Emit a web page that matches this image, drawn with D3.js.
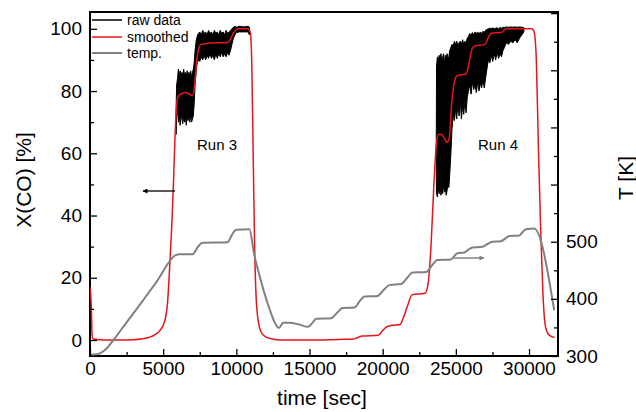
<!DOCTYPE html>
<html>
<head>
<meta charset="utf-8">
<script src="https://cdn.jsdelivr.net/npm/d3@7"></script>
<style>
  html, body { margin: 0; padding: 0; background: #fff; }
  svg { display: block; font-family: "Liberation Sans", Arial, Helvetica, sans-serif; }
</style>
</head>
<body>
<svg id="chart" width="636" height="412"></svg>
<script>
// ---- data ----
const smoothTime = [0, 80, 150, 250, 1000, 2000, 3000, 3500, 4000, 4400, 4800, 5100, 5300, 5450, 5600, 5700, 5800, 5900, 6000, 6200, 6500, 6800, 7000, 7150, 7300, 7450, 7600, 8500, 9300, 9500, 9800, 10100, 10800, 10950, 11050, 11150, 11250, 11350, 11500, 11700, 12000, 12500, 13000, 15000, 17000, 18000, 18300, 18600, 19700, 19900, 20200, 20500, 21200, 21400, 21700, 22000, 22900, 23100, 23300, 23500, 23650, 23800, 24000, 24200, 24400, 24550, 24700, 24900, 25100, 25700, 25900, 26100, 26300, 27000, 27200, 27400, 28200, 28400, 30200, 30350, 30500, 30650, 30800, 30950, 31100, 31300, 31600, 31750];
const smoothValue = [17, 12, 1, 0.3, 0, 0, 0.1, 0.3, 0.8, 1.6, 3.2, 6, 12, 24, 38, 50, 64, 74, 78, 79, 79.5, 79, 78.5, 82, 90, 94, 95, 95.5, 95.5, 96, 98.5, 100, 100, 99, 90, 60, 30, 14, 6, 2.5, 1, 0.3, 0, 0, 0.2, 0.3, 0.8, 1.3, 1.5, 2.5, 4, 4.6, 5, 7, 11, 14.5, 15, 18, 30, 50, 62, 66, 66, 65, 63.5, 65, 75, 83, 85, 85.5, 89, 93.5, 94.5, 95, 97, 98.5, 99, 100, 100, 99, 90, 60, 35, 15, 5, 2, 1, 0.8];

const tempTime = [0, 500, 1000, 1600, 2500, 3500, 4500, 5900, 6100, 7000, 7400, 7700, 9400, 9700, 10000, 10900, 11200, 11600, 12000, 12300, 12600, 12900, 13200, 13600, 14300, 14900, 15200, 15460, 16480, 16900, 17260, 18080, 18400, 18760, 19650, 20050, 20460, 21260, 21650, 22040, 22970, 23350, 23740, 24670, 25100, 25580, 25850, 26130, 26810, 27150, 27490, 28080, 28400, 28650, 29330, 29600, 29790, 30350, 31720];
const tempValue = [302, 303, 310, 328, 359, 393, 428, 477, 478, 478, 492, 498, 499, 512, 521, 522, 480, 439, 403, 380, 360, 349, 358, 358, 355, 351, 358, 365, 366, 376, 384, 385, 395, 404, 405, 415, 424, 426, 436, 446, 447, 458, 468, 469, 480, 481, 486, 490, 491, 496, 500, 501, 506, 510, 511, 518, 522, 523, 380];

// raw data noise envelope, run 3
const raw3Time = [5880, 5920, 5980, 6040, 6100, 6160, 6220, 6280, 6340, 6400, 6460, 6520, 6580, 6640, 6700, 6760, 6820, 6880, 6940, 7000, 7060, 7120, 7180, 7250, 7320, 7400, 7500, 7600, 7700, 7800, 7900, 8000, 8100, 8200, 8300, 8400, 8500, 8600, 8700, 8800, 8900, 9000, 9100, 9200, 9300, 9400, 9500, 9600, 9700, 9800, 9900, 10000, 10200, 10500, 10800, 10900];
const raw3Low  = [66, 72, 74, 70, 72, 69, 72, 71, 69.5, 72, 70, 71.5, 69, 72, 70.5, 72, 70, 72.5, 70, 71, 72, 76, 82, 86, 89, 90, 89.5, 91, 90, 91.5, 90, 91.5, 90.5, 92, 90.5, 91.5, 90, 92, 90.5, 92, 91, 92.5, 91, 92, 91, 92.5, 91.5, 93, 95, 97, 98, 98.8, 99, 99, 99, 98];
const raw3High = [74, 82, 84, 87, 85, 86.5, 84, 86, 85, 87, 85, 86, 84.5, 86.5, 85, 86, 85, 86.5, 84.5, 86, 87, 89, 93, 96, 97.5, 98.5, 99, 98, 99.5, 98.5, 99, 98, 99.5, 98.5, 99, 98, 99.5, 98.5, 99, 98, 99.5, 98.5, 99, 98, 99.5, 98.5, 99, 99.5, 100, 100.5, 100.8, 100.5, 100.8, 100.6, 100.8, 100.5];

// raw data noise envelope, run 4
const raw4Time = [23660, 23680, 23740, 23800, 23860, 23920, 23980, 24040, 24100, 24160, 24220, 24280, 24340, 24400, 24460, 24520, 24580, 24660, 24740, 24820, 24900, 24980, 25060, 25140, 25220, 25300, 25380, 25460, 25540, 25620, 25700, 25780, 25860, 25950, 26040, 26130, 26220, 26310, 26400, 26490, 26580, 26670, 26760, 26850, 26940, 27030, 27120, 27220, 27320, 27420, 27520, 27620, 27720, 27820, 27920, 28020, 28120, 28220, 28320, 28450, 28600, 28750, 28900, 29050, 29200, 29350, 29500, 29650];
const raw4Low  = [56, 47, 46, 49, 47, 50, 46.5, 48.5, 47, 50, 47.5, 49, 46.5, 48, 50, 49, 53, 60, 68, 72, 70.5, 74, 71, 76, 72, 77, 71, 75, 72.5, 77, 73, 78, 80, 82, 79, 83, 80.5, 82, 79.5, 83, 80, 82.5, 81, 83.5, 81, 84, 87, 90, 89, 91.5, 89.5, 92, 90, 92.5, 90.5, 92, 91, 93, 94, 95.5, 95, 96, 95.5, 96.5, 95.5, 97, 98, 99];
const raw4High = [62, 88, 91, 89.5, 91.5, 90, 92, 89.5, 91, 92, 89, 91.5, 90, 92, 90.5, 91, 93, 94, 95, 94.5, 96, 95, 96, 94.5, 95.5, 96, 95, 96.5, 95, 96, 95.5, 97, 97.5, 98.5, 98, 98.8, 98, 99, 98.5, 99, 98.2, 99, 98.5, 99.2, 98.8, 99.5, 99.8, 100, 100.2, 100, 100.3, 100, 100.2, 100.3, 100, 100.4, 100.2, 100.5, 100.4, 100.6, 100.5, 100.6, 100.5, 100.6, 100.5, 100.6, 100.5, 100.4];

const xTickValues = [0, 5000, 10000, 15000, 20000, 25000, 30000];
const yTickValues = [0, 20, 40, 60, 80, 100];
const tTickValues = [300, 400, 500];
const legendLabels = ["raw data", "smoothed", "temp."];
const runLabels = ["Run 3", "Run 4"];

// ---- layout ----
const L = 90, R = 558, T = 12, B = 356;
const svg = d3.select("#chart");

const x = d3.scaleLinear().domain([0, 31980]).range([L, R]);
const y = d3.scaleLinear().domain([-5.14, 105.4]).range([B, T]);
const yT = d3.scaleLinear().domain([300, 902]).range([B, T]);

const defs = svg.append("defs");
defs.append("clipPath").attr("id", "clip")
  .append("rect").attr("x", L).attr("y", T).attr("width", R - L).attr("height", B - T);

function marker(id, color) {
  defs.append("marker").attr("id", id).attr("viewBox", "0 0 10 10")
    .attr("refX", 9).attr("refY", 5).attr("markerWidth", 7).attr("markerHeight", 5)
    .attr("markerUnits", "userSpaceOnUse").attr("orient", "auto")
    .append("path").attr("d", "M0,0L10,5L0,10z").attr("fill", color);
}
marker("arrBlack", "#000");
marker("arrGray", "#808080");

// frame (drawn first so the data lines sit on top of it)
svg.append("rect").attr("x", L).attr("y", T).attr("width", R - L).attr("height", B - T)
  .attr("fill", "none").attr("stroke", "#000").attr("stroke-width", 2);

const plot = svg.append("g").attr("clip-path", "url(#clip)");

// raw data bands
function rawBand(tArr, lo, hi) {
  const d = tArr.map((t, i) => ({ t, lo: lo[i], hi: hi[i] }));
  plot.append("path").datum(d)
    .attr("d", d3.area().x(p => x(p.t)).y0(p => y(p.lo)).y1(p => y(p.hi)))
    .attr("fill", "#000").attr("stroke", "#000").attr("stroke-width", 1);
}
rawBand(raw3Time, raw3Low, raw3High);
rawBand(raw4Time, raw4Low, raw4High);

const smooth = smoothTime.map((t, i) => ({ t, v: smoothValue[i] }));
plot.append("path").datum(smooth)
  .attr("d", d3.line().x(p => x(p.t)).y(p => y(p.v)).curve(d3.curveMonotoneX))
  .attr("fill", "none").attr("stroke", "#e8141b").attr("stroke-width", 1.5);

const temp = tempTime.map((t, i) => ({ t, v: tempValue[i] }));
plot.append("path").datum(temp)
  .attr("d", d3.line().x(p => x(p.t)).y(p => yT(p.v)).curve(d3.curveMonotoneX))
  .attr("fill", "none").attr("stroke", "#808080").attr("stroke-width", 2);

// ---- axes ----
const tickFont = "19px";
function styleAxis(g) {
  g.select(".domain").remove();
  g.selectAll("line").attr("stroke", "#000").attr("stroke-width", 1.3);
  g.selectAll("text").attr("fill", "#000").style("font-size", tickFont);
}
// bottom
const xMinor = d3.range(2500, 31980, 5000);
svg.append("g").attr("transform", `translate(0,${B})`)
  .call(d3.axisBottom(x).tickValues(xMinor).tickSize(-4).tickFormat(""))
  .call(styleAxis);
svg.append("g").attr("transform", `translate(0,${B})`)
  .call(d3.axisBottom(x).tickValues(xTickValues).tickSize(-7).tickPadding(6).tickFormat(d3.format("d")))
  .call(styleAxis);
// left
svg.append("g").attr("transform", `translate(${L},0)`)
  .call(d3.axisLeft(y).tickValues(d3.range(0, 101, 10).filter(v => v % 20 !== 0)).tickSize(-4).tickFormat(""))
  .call(styleAxis);
svg.append("g").attr("transform", `translate(${L},0)`)
  .call(d3.axisLeft(y).tickValues(yTickValues).tickSize(-7).tickPadding(8).tickFormat(d3.format("d")))
  .call(styleAxis);
// right
const tAll = d3.range(300, 901, 50);
svg.append("g").attr("transform", `translate(${R},0)`)
  .call(d3.axisRight(yT).tickValues(tAll.filter(v => v % 100 !== 0)).tickSize(-4).tickFormat(""))
  .call(styleAxis);
svg.append("g").attr("transform", `translate(${R},0)`)
  .call(d3.axisRight(yT).tickValues(tAll.filter(v => v % 100 === 0)).tickSize(-7).tickPadding(8)
    .tickFormat(v => tTickValues.includes(v) ? d3.format("d")(v) : ""))
  .call(styleAxis);

// axis titles
svg.append("text").attr("x", 322).attr("y", 405).attr("text-anchor", "middle")
  .style("font-size", "21px").text("time [sec]");
svg.append("text").attr("transform", "translate(31,180) rotate(-90)").attr("text-anchor", "middle")
  .style("font-size", "21px").text("X(CO) [%]");
svg.append("text").attr("transform", "translate(633,178) rotate(-90)").attr("text-anchor", "middle")
  .style("font-size", "21px").text("T [K]");

// legend
const legColors = ["#000", "#e8141b", "#808080"];
const legY = [20, 37, 53];
legendLabels.forEach((lab, i) => {
  svg.append("line").attr("x1", 92).attr("x2", 122).attr("y1", legY[i]).attr("y2", legY[i])
    .attr("stroke", legColors[i]).attr("stroke-width", i === 2 ? 2 : 1.5);
  svg.append("text").attr("x", 127).attr("y", legY[i] + 5).style("font-size", "14px").text(lab);
});

// annotations
svg.append("text").attr("x", 197).attr("y", 150).style("font-size", "15px").text(runLabels[0]);
svg.append("text").attr("x", 478).attr("y", 150).style("font-size", "15px").text(runLabels[1]);
svg.append("line").attr("x1", 175).attr("y1", 191).attr("x2", 143).attr("y2", 191)
  .attr("stroke", "#000").attr("stroke-width", 1.3).attr("marker-end", "url(#arrBlack)");
svg.append("line").attr("x1", 453).attr("y1", 258).attr("x2", 484).attr("y2", 258)
  .attr("stroke", "#808080").attr("stroke-width", 1.5).attr("marker-end", "url(#arrGray)");
</script>
</body>
</html>
